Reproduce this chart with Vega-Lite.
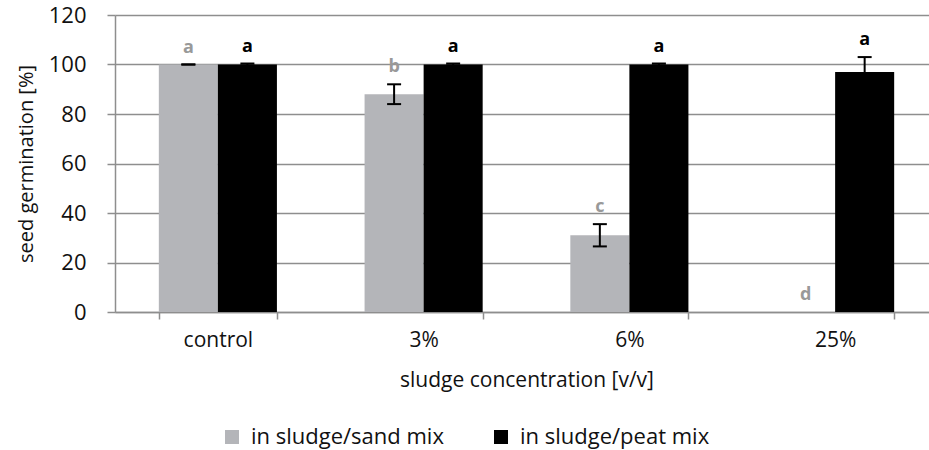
{
  "$schema": "https://vega.github.io/schema/vega-lite/v6.json",
  "width": 823,
  "height": 297,
  "autosize": "none",
  "padding": {"left": 115, "top": 15, "right": 0, "bottom": 138},
  "background": "white",
  "config": {"font": "Open Sans", "view": {"stroke": null}},
  "data": {
    "values": [
      {"conc": "control", "mix": "in sludge/sand mix", "mean": 100, "lo": 100, "hi": 100, "letter": "a"},
      {"conc": "control", "mix": "in sludge/peat mix", "mean": 100, "lo": 99.6, "hi": 100.4, "letter": "a"},
      {"conc": "3%", "mix": "in sludge/sand mix", "mean": 88, "lo": 84, "hi": 92, "letter": "b"},
      {"conc": "3%", "mix": "in sludge/peat mix", "mean": 100, "lo": 99.6, "hi": 100.4, "letter": "a"},
      {"conc": "6%", "mix": "in sludge/sand mix", "mean": 31, "lo": 26.5, "hi": 35.5, "letter": "c"},
      {"conc": "6%", "mix": "in sludge/peat mix", "mean": 100, "lo": 99.6, "hi": 100.4, "letter": "a"},
      {"conc": "25%", "mix": "in sludge/sand mix", "mean": 0, "lo": 0, "hi": 0, "letter": "d"},
      {"conc": "25%", "mix": "in sludge/peat mix", "mean": 97, "lo": 91, "hi": 103, "letter": "a"}
    ]
  },
  "encoding": {
    "x": {
      "field": "conc",
      "type": "nominal",
      "sort": ["control", "3%", "6%", "25%"],
      "scale": {"paddingInner": 0.426, "paddingOuter": 0.213},
      "axis": {
        "tickBand": "extent",
        "domainColor": "#8e8e8e",
        "domainWidth": 1.5,
        "tickColor": "#8e8e8e",
        "tickWidth": 1.5,
        "tickSize": 7,
        "labelAngle": 0,
        "labelFontSize": 21,
        "labelColor": "#111",
        "labelPadding": 10,
        "title": "sludge concentration [v/v]",
        "titleFontSize": 21,
        "titleFontWeight": "normal",
        "titleColor": "#111",
        "titlePadding": 19
      }
    },
    "xOffset": {
      "field": "mix",
      "sort": ["in sludge/sand mix", "in sludge/peat mix"],
      "scale": {"paddingInner": 0}
    }
  },
  "layer": [
    {
      "mark": {"type": "bar"},
      "encoding": {
        "y": {
          "field": "mean",
          "type": "quantitative",
          "scale": {"domain": [0, 120]},
          "axis": {
            "values": [0, 20, 40, 60, 80, 100, 120],
            "grid": true,
            "gridColor": "#8e8e8e",
            "gridWidth": 1.5,
            "domainColor": "#8e8e8e",
            "domainWidth": 1.5,
            "tickColor": "#8e8e8e",
            "tickWidth": 1.5,
            "tickSize": 8,
            "labelFontSize": 22,
            "labelColor": "#111",
            "labelPadding": 21,
            "title": "seed  germination [%]",
            "titleFontSize": 20,
            "titleFontWeight": "normal",
            "titleColor": "#111",
            "titlePadding": 12
          }
        },
        "color": {
          "field": "mix",
          "type": "nominal",
          "sort": ["in sludge/sand mix", "in sludge/peat mix"],
          "scale": {"range": ["#b4b5b9", "#000000"]},
          "legend": {
            "orient": "none",
            "legendX": 106,
            "legendY": 411,
            "direction": "horizontal",
            "title": null,
            "symbolType": "square",
            "symbolSize": 196,
            "symbolStrokeWidth": 0,
            "labelFontSize": 22,
            "labelColor": "#111",
            "labelLimit": 400,
            "labelOffset": 8,
            "columnPadding": 46
          }
        }
      }
    },
    {
      "transform": [{"filter": "datum.mean > 0"}],
      "mark": {"type": "rule", "color": "#000", "strokeWidth": 2},
      "encoding": {
        "y": {"field": "lo", "type": "quantitative"},
        "y2": {"field": "hi"}
      }
    },
    {
      "transform": [{"filter": "datum.mean > 0"}],
      "mark": {"type": "tick", "color": "#000", "thickness": 2, "size": 14, "opacity": 1},
      "encoding": {"y": {"field": "lo", "type": "quantitative"}}
    },
    {
      "transform": [{"filter": "datum.mean > 0"}],
      "mark": {"type": "tick", "color": "#000", "thickness": 2, "size": 14, "opacity": 1},
      "encoding": {"y": {"field": "hi", "type": "quantitative"}}
    },
    {
      "mark": {"type": "text", "baseline": "bottom", "dy": -8, "fontSize": 18, "fontWeight": "bold"},
      "encoding": {
        "y": {"field": "hi", "type": "quantitative"},
        "text": {"field": "letter"},
        "color": {
          "condition": {"test": "datum.mix === 'in sludge/sand mix'", "value": "#999999"},
          "value": "#000000"
        }
      }
    }
  ]
}
